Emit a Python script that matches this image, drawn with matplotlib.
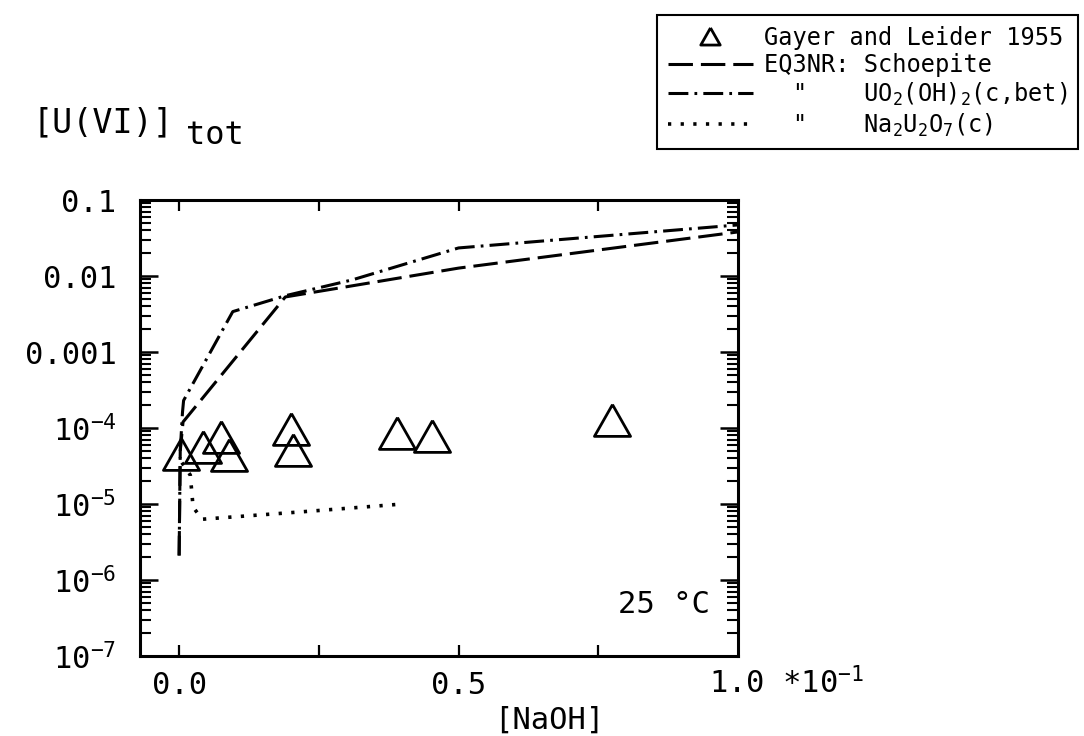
import numpy as np
import matplotlib
matplotlib.use("Agg")
import matplotlib.pyplot as plt
from matplotlib.lines import Line2D
from matplotlib.ticker import LogLocator, FixedLocator, FixedFormatter

plt.rcParams['font.family'] = ['DejaVu Sans Mono', 'DejaVu Sans']
plt.rcParams['mathtext.default'] = 'regular'

# [NaOH] in units of 0.1 M, [U(VI)]tot in mol/L
gayer_x = [0.004, 0.043, 0.075, 0.089, 0.20, 0.204, 0.389, 0.452, 0.775]
gayer_y = [4.6e-5, 5.6e-5, 7.6e-5, 4.4e-5, 9.7e-5, 5.2e-5, 8.7e-5, 7.9e-5, 1.28e-4]

schoepite_x = [0.0, 0.002, 0.007, 0.19, 0.50, 1.0]
schoepite_y = [2.1e-6, 5.0e-5, 1.2e-4, 5.3e-3, 1.27e-2, 3.8e-2]

uo2oh2_x = [0.0, 0.002, 0.006, 0.008, 0.096, 0.19, 0.31, 0.50, 1.0]
uo2oh2_y = [2.1e-6, 5.0e-5, 1.6e-4, 2.3e-4, 3.4e-3, 5.5e-3, 8.9e-3, 2.34e-2, 4.7e-2]

na2u2o7_x = [0.005, 0.02, 0.025, 0.041, 0.23, 0.40]
na2u2o7_y = [3.5e-5, 2.4e-5, 9.1e-6, 6.3e-6, 8.0e-6, 1.0e-5]

ytick_vals = [1e-7, 1e-6, 1e-5, 1e-4, 1e-3, 1e-2, 1e-1]
ytick_labels = ['$10^{-7}$', '$10^{-6}$', '$10^{-5}$', '$10^{-4}$', '0.001', '0.01', '0.1']
xtick_vals = [0.0, 0.25, 0.5, 0.75]
xtick_labels = ['0.0', '', '0.5', '']

# open triangle, a bit flatter than the stock '^'
tri = [(0, 0.88), (-1, -0.88), (1, -0.88), (0, 0.88)]

fig = plt.figure(figsize=(10.84, 7.36), dpi=100)
ax = fig.add_axes([140/1084, 1 - 656/736, 598/1084, 456/736])

ax.plot(schoepite_x, schoepite_y, color='k', lw=2.2, dashes=(8, 2.6),
        label='EQ3NR: Schoepite')
ax.plot(uo2oh2_x, uo2oh2_y, color='k', lw=2.2, dashes=(6.5, 2.0, 0.9, 2.0),
        label='  "    UO$_2$(OH)$_2$(c,bet)')
ax.plot(na2u2o7_x, na2u2o7_y, color='k', lw=2.6, dashes=(0.9, 2.6),
        label='  "    Na$_2$U$_2$O$_7$(c)')
ax.plot(gayer_x, gayer_y, ls='none', marker=tri, ms=26, mfc='none', mec='k', mew=2.0)

ax.set_yscale('log')
ax.set_xlim(-0.07, 1.0)
ax.set_ylim(1e-7, 0.1)

for s in ax.spines.values():
    s.set_linewidth(2.2)

ax.yaxis.set_major_locator(FixedLocator(ytick_vals))
ax.yaxis.set_major_formatter(FixedFormatter(ytick_labels))
ax.yaxis.set_minor_locator(LogLocator(base=10, subs=np.arange(2, 10)))
ax.xaxis.set_major_locator(FixedLocator(xtick_vals))
ax.xaxis.set_major_formatter(FixedFormatter(xtick_labels))

ax.tick_params(axis='y', which='major', direction='in', length=13, width=1.8,
               left=True, right=True, labelsize=22, pad=17)
ax.tick_params(axis='y', which='minor', direction='in', length=8, width=1.5,
               left=True, right=True)
ax.tick_params(axis='x', which='major', direction='in', length=8, width=1.6,
               top=True, bottom=True, labelsize=22, pad=11)

ax.annotate('1.0 *10$^{-1}$', xy=(1.0, 0), xycoords=ax.get_xaxis_transform(),
            xytext=(-21, -27), textcoords='offset points',
            ha='left', va='baseline', fontsize=22)

fig.text(549/1084, 1 - 720/736, '[NaOH]', ha='center', va='center', fontsize=22)
fig.text(33/1084, 1 - 123/736, '[U(VI)]', ha='left', va='center', fontsize=24)
fig.text(186/1084, 1 - 135/736, 'tot', ha='left', va='center', fontsize=23)
ax.text(0.953, 0.112, '25 °C', transform=ax.transAxes, ha='right', va='center',
        fontsize=22)

# legend with a smaller triangle than the data marks
handles = [Line2D([], [], ls='none', marker=tri, ms=14, mfc='none', mec='k', mew=2.0)]
handles += ax.get_lines()[:3]
labels = ['Gayer and Leider 1955'] + [l.get_label() for l in ax.get_lines()[:3]]
leg = fig.legend(handles, labels, loc='upper left',
                 bbox_to_anchor=(657/1084, 1 - 15/736), fontsize=17,
                 frameon=True, fancybox=False, edgecolor='k', framealpha=1,
                 handlelength=3.6, handletextpad=0.5, labelspacing=0.15,
                 borderpad=0.45, borderaxespad=0)
leg.get_frame().set_linewidth(1.5)

fig.savefig('out.png', dpi=100)
